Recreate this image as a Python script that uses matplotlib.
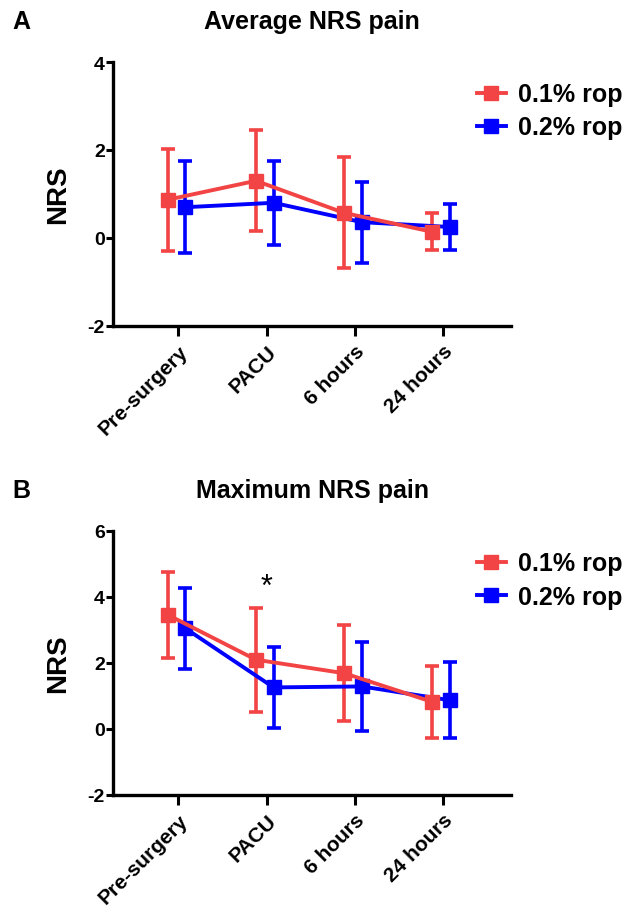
import numpy as np
import matplotlib
matplotlib.use('Agg')
from matplotlib import pyplot as plt
from matplotlib.lines import Line2D

plt.rcParams['font.family'] = ['Liberation Sans', 'DejaVu Sans']
plt.rcParams['font.weight'] = 'bold'
plt.rcParams['axes.unicode_minus'] = False

times = ['Pre-surgery', 'PACU', '6 hours', '24 hours']

# average NRS pain (mean, SD)
avg_01 = [0.87, 1.30, 0.57, 0.14]
avg_01_sd = [1.16, 1.15, 1.26, 0.42]
avg_02 = [0.70, 0.80, 0.36, 0.25]
avg_02_sd = [1.05, 0.96, 0.92, 0.53]

# maximum NRS pain (mean, SD)
max_01 = [3.46, 2.10, 1.69, 0.82]
max_01_sd = [1.30, 1.58, 1.45, 1.10]
max_02 = [3.05, 1.26, 1.29, 0.87]
max_02_sd = [1.23, 1.24, 1.34, 1.15]

red = '#F24444'
blue = '#0000FF'

fig = plt.figure(figsize=(6.41, 9.12), dpi=100)
W, H = 641, 912


def make_ax(top, bottom):
    return fig.add_axes([113 / W, 1 - bottom / H, (511 - 113) / W, (bottom - top) / H])


def panel(ax, s1, e1, s2, e2, ylim, yticks, title, letter, top):
    x = np.arange(len(times))
    for vals, errs, col, off in [(s2, e2, blue, 0.08), (s1, e1, red, -0.12)]:
        ax.errorbar(x + off, vals, yerr=errs, color=col, lw=2.8, marker='s',
                    ms=10, capsize=5, capthick=2.6, elinewidth=2.6,
                    clip_on=False)
    ax.set_xlim(-0.74, 3.77)
    ax.set_ylim(*ylim)
    ax.set_yticks(yticks)
    ax.set_xticks(x)
    ax.set_xticklabels(times, rotation=45, ha='right', va='top',
                       rotation_mode='anchor', fontsize=15, fontweight='bold')
    for t in ax.get_yticklabels():
        t.set_fontsize(14)
        t.set_fontweight('bold')
    ax.spines['top'].set_visible(False)
    ax.spines['right'].set_visible(False)
    ax.spines['left'].set_linewidth(2.4)
    ax.spines['bottom'].set_linewidth(2.4)
    ax.tick_params(axis='y', length=5, width=2.2, pad=1)
    ax.tick_params(axis='x', length=7, width=2.2, pad=4)
    ax.set_ylabel('NRS', fontsize=20, fontweight='bold')
    ax.yaxis.set_label_coords(-0.105, 0.5)
    fig.text(312 / W, 1 - (top - 41) / H, title, fontsize=18, fontweight='bold',
             ha='center', va='center')
    fig.text(12 / W, 1 - (top - 41) / H, letter, fontsize=18, fontweight='bold',
             ha='left', va='center')
    handles = [Line2D([], [], color=red, lw=2.8, marker='s', ms=10),
               Line2D([], [], color=blue, lw=2.8, marker='s', ms=10)]
    ax.legend(handles, ['0.1% rop', '0.2% rop'], loc='center left',
              bbox_to_anchor=(477 / W, 1 - (top + 49) / H),
              bbox_transform=fig.transFigure, frameon=False,
              prop={'weight': 'bold', 'size': 18}, borderpad=0,
              borderaxespad=0, handlelength=1.15, handletextpad=0.5,
              labelspacing=0.36)


ax1 = make_ax(63, 327)
panel(ax1, avg_01, avg_01_sd, avg_02, avg_02_sd, (-2, 4), [-2, 0, 2, 4],
      'Average NRS pain', 'A', 63)

ax2 = make_ax(532, 796)
panel(ax2, max_01, max_01_sd, max_02, max_02_sd, (-2, 6), [-2, 0, 2, 4, 6],
      'Maximum NRS pain', 'B', 532)
ax2.text(1, 4.3, '*', ha='center', va='center', fontsize=22, fontweight='normal')

fig.savefig('out.png', dpi=100)
